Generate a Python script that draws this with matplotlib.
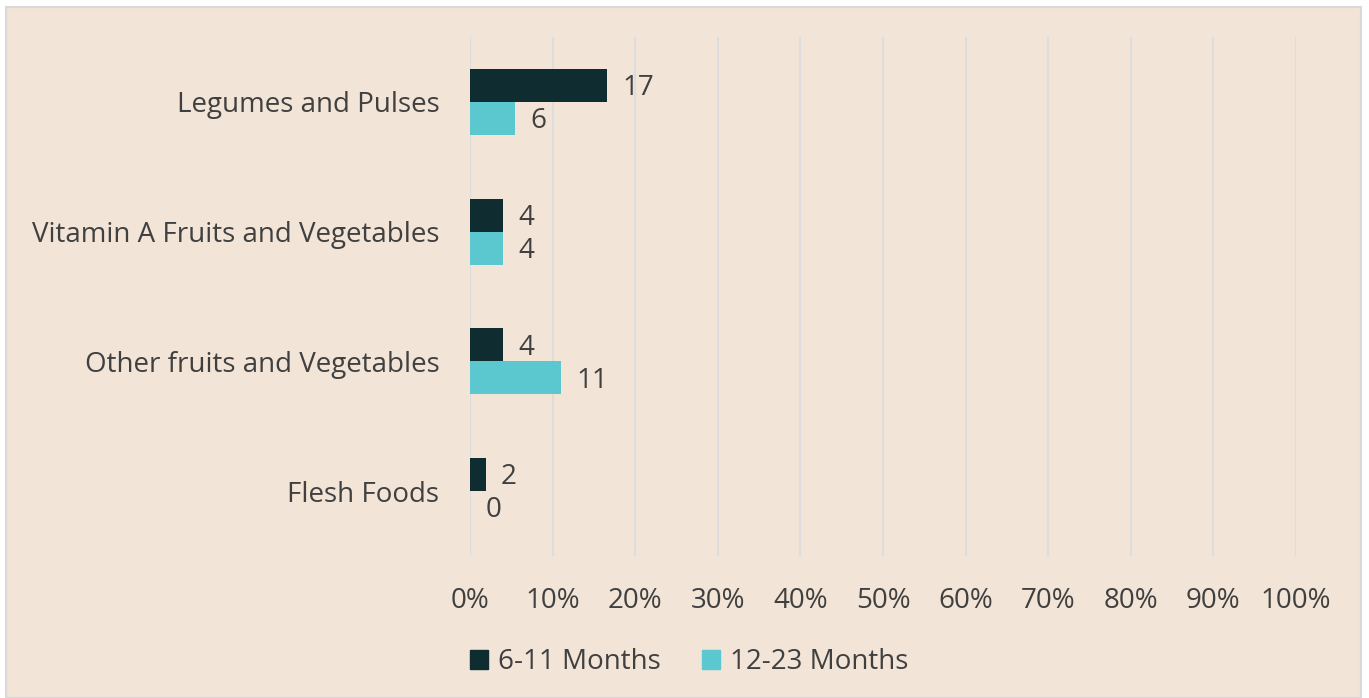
import matplotlib
matplotlib.use("Agg")
import matplotlib.pyplot as plt
from matplotlib.patches import Rectangle
import numpy as np

categories = ["Legumes and Pulses", "Vitamin A Fruits and Vegetables",
              "Other fruits and Vegetables", "Flesh Foods"]
series_names = ["6-11 Months", "12-23 Months"]
vals_6_11 = [16.6, 4.0, 4.0, 1.9]
vals_12_23 = [5.5, 4.0, 11.0, 0.0]
xticks = [0, 10, 20, 30, 40, 50, 60, 70, 80, 90, 100]

c_dark = "#0F2D30"
c_cyan = "#5BC8D0"
bg = "#F2E4D6"
txt = "#404040"
FS = 20

plt.rcParams['font.family'] = ['Open Sans', 'DejaVu Sans']

W, H = 1369, 698
fig = plt.figure(figsize=(W / 100, H / 100), dpi=100)
fig.patch.set_facecolor("white")
fig.patches.append(Rectangle((6 / W, 0), (1361 - 6) / W, (H - 7) / H,
                             transform=fig.transFigure, facecolor=bg,
                             edgecolor="#D9D9D9", linewidth=1.5, zorder=-10))

ax = fig.add_axes([470 / W, 1 - 556 / H, (1296 - 470) / W, (556 - 37) / H])
ax.set_facecolor("none")

y = np.arange(len(categories))
bh = 0.255
ax.barh(y - bh / 2, vals_6_11, height=bh, color=c_dark, zorder=3)
ax.barh(y + bh / 2, vals_12_23, height=bh, color=c_cyan, zorder=3)

for i in range(len(categories)):
    ax.annotate(f"{round(vals_6_11[i])}", (vals_6_11[i], y[i] - bh / 2),
                xytext=(11, 0.5), textcoords="offset points", va="center_baseline",
                ha="left", fontsize=FS, color=txt)
    ax.annotate(f"{round(vals_12_23[i])}", (vals_12_23[i], y[i] + bh / 2),
                xytext=(11, 0.5), textcoords="offset points", va="center_baseline",
                ha="left", fontsize=FS, color=txt)

ax.set_ylim(3.5, -0.5)
ax.set_xlim(0, 100)
ax.set_yticks(y)
ax.set_yticklabels(categories, fontsize=FS, color=txt)
ax.set_xticks(xticks)
ax.set_xticklabels([f"{t}%" for t in xticks], fontsize=FS, color=txt)
ax.tick_params(axis="both", length=0)
ax.tick_params(axis="y", pad=22)
ax.tick_params(axis="x", pad=22)
ax.grid(axis="x", color="#DDDDDD", linewidth=1.5, zorder=0)
for s in ax.spines.values():
    s.set_visible(False)

handles = [Rectangle((0, 0), 1, 1, color=c_dark), Rectangle((0, 0), 1, 1, color=c_cyan)]
leg = fig.legend(handles, series_names, loc="center", bbox_to_anchor=(689 / W, 1 - 662 / H),
                 ncol=2, frameon=False, fontsize=FS, handlelength=0.65, handleheight=0.65,
                 handletextpad=0.35, columnspacing=1.5)
for t in leg.get_texts():
    t.set_color(txt)

fig.savefig("out.png", dpi=100, facecolor=fig.get_facecolor())
